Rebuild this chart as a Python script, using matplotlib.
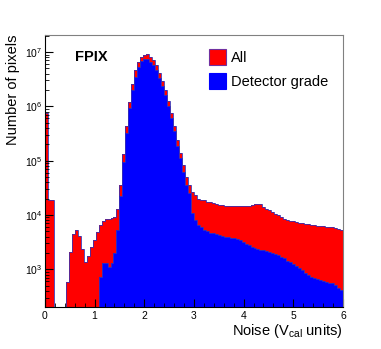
import matplotlib
matplotlib.use("Agg")
import matplotlib.pyplot as plt
import numpy as np
from matplotlib.patches import Patch
from matplotlib.ticker import LogLocator, FixedLocator, MultipleLocator

plt.rcParams['font.family'] = ['Liberation Sans', 'DejaVu Sans']
plt.rcParams['mathtext.fontset'] = 'custom'
plt.rcParams['mathtext.rm'] = 'Liberation Sans'
plt.rcParams['mathtext.it'] = 'Liberation Sans:italic'

# histogram binning: 100 bins from 0 to 6 (Vcal units)
edges = np.linspace(0, 6, 101)

# "All" pixels, counts per bin
allPix = [7.5e5, 1.9e4, 1.9e4, 0, 0, 0, 0, 590, 2050, 4460,
          5300, 4160, 2340, 1380, 1780, 2540, 3460, 4930, 6540, 7860,
          8400, 8500, 8700, 9300, 1.27e4, 3.5e4, 1.35e5, 4.4e5, 1.2e6, 2.6e6,
          4.6e6, 6.5e6, 8.0e6, 9.0e6, 9.1e6, 8.0e6, 7.0e6, 5.7e6, 4.2e6, 2.9e6,
          2.0e6, 1.26e6, 7.6e5, 4.4e5, 2.4e5, 1.4e5, 8.4e4, 5.0e4, 3.5e4, 2.7e4,
          2.3e4, 2.0e4, 1.9e4, 1.85e4, 1.75e4, 1.7e4, 1.65e4, 1.6e4, 1.55e4, 1.5e4,
          1.48e4, 1.47e4, 1.46e4, 1.46e4, 1.46e4, 1.46e4, 1.46e4, 1.47e4, 1.48e4, 1.5e4,
          1.58e4, 1.6e4, 1.58e4, 1.4e4, 1.3e4, 1.22e4, 1.12e4, 1.05e4, 9800, 9000,
          8600, 8200, 7900, 7600, 7300, 7100, 7000, 6800, 6700, 6600,
          6500, 6400, 6300, 6200, 6100, 6000, 5900, 5700, 5600, 5400]

# "Detector grade" pixels
detGrade = [0, 0, 0, 0, 0, 0, 0, 0, 0, 0,
            0, 0, 0, 0, 0, 0, 0, 0, 710, 1290,
            1290, 1120, 1290, 1970, 5300, 2.2e4, 9.6e4, 3.3e5, 9.2e5, 2.0e6,
            3.5e6, 5.4e6, 6.9e6, 7.6e6, 7.6e6, 6.7e6, 5.8e6, 4.7e6, 3.4e6, 2.35e6,
            1.6e6, 1.0e6, 6.1e5, 3.5e5, 1.9e5, 1.1e5, 6.3e4, 3.6e4, 2.5e4, 1.1e4,
            8100, 6500, 6000, 5300, 5000, 4700, 4600, 4400, 4300, 4100,
            4000, 3900, 3800, 3700, 3600, 3450, 3200, 2950, 2800, 2600,
            2450, 2350, 2300, 2250, 2150, 2050, 2000, 1950, 1850, 1700,
            1600, 1450, 1350, 1250, 1150, 1050, 950, 850, 780, 730,
            700, 660, 640, 620, 590, 570, 560, 510, 450, 420]

fig = plt.figure(figsize=[3.81, 3.49], dpi=100)
ax = fig.add_axes([0.118, 0.121, 0.782, 0.779])

lineCol = '#3a30b0'
ax.stairs(allPix, edges, fill=True, facecolor='#ff0000', edgecolor='none', baseline=1)
ax.stairs(allPix, edges, color=lineCol, linewidth=0.6, baseline=1)
ax.stairs(detGrade, edges, fill=True, facecolor='#0000ff', edgecolor='none', baseline=1)
ax.stairs(detGrade, edges, color=lineCol, linewidth=0.6, baseline=1)

ax.set_yscale('log')
ax.set_xlim([0, 6])
ax.set_ylim([204, 2.07e7])

ax.xaxis.set_major_locator(FixedLocator([0, 1, 2, 3, 4, 5, 6]))
ax.xaxis.set_minor_locator(MultipleLocator(0.2))
ax.yaxis.set_major_locator(LogLocator(base=10, numticks=10))
ax.yaxis.set_minor_locator(LogLocator(base=10, subs=np.arange(2, 10), numticks=20))

ax.tick_params(which='both', direction='in', top=False, right=False, labelsize=7.5)
ax.tick_params(which='major', length=6, width=0.8)
ax.tick_params(which='minor', length=3, width=0.6)
ax.tick_params(axis='x', pad=3)
ax.tick_params(axis='y', pad=2)

for s in ['top', 'right']:
    ax.spines[s].set_color('#808080')
ax.spines['left'].set_linewidth(0.8)
ax.spines['bottom'].set_linewidth(0.8)

ax.set_xlabel(r'Noise (V$_{\mathrm{cal}}$ units)', fontsize=10.5, loc='right', labelpad=1)
ax.set_ylabel('Number of pixels', fontsize=10.5, loc='top', labelpad=3)

ax.text(0.1, 0.945, 'FPIX', transform=ax.transAxes, fontsize=10.5, fontweight='bold',
        va='top', ha='left')

handles = [Patch(facecolor='#ff0000', edgecolor='#7030a0', linewidth=0.8, label='All'),
           Patch(facecolor='#0000ff', edgecolor='#0000ff', linewidth=0.8, label='Detector grade')]
ax.legend(handles=handles, loc='upper left', bbox_to_anchor=(0.53, 0.97), frameon=False,
          fontsize=10.5, handlelength=1.2, handleheight=1.3, handletextpad=0.3,
          labelspacing=0.55, borderaxespad=0)

fig.savefig("out.png")
